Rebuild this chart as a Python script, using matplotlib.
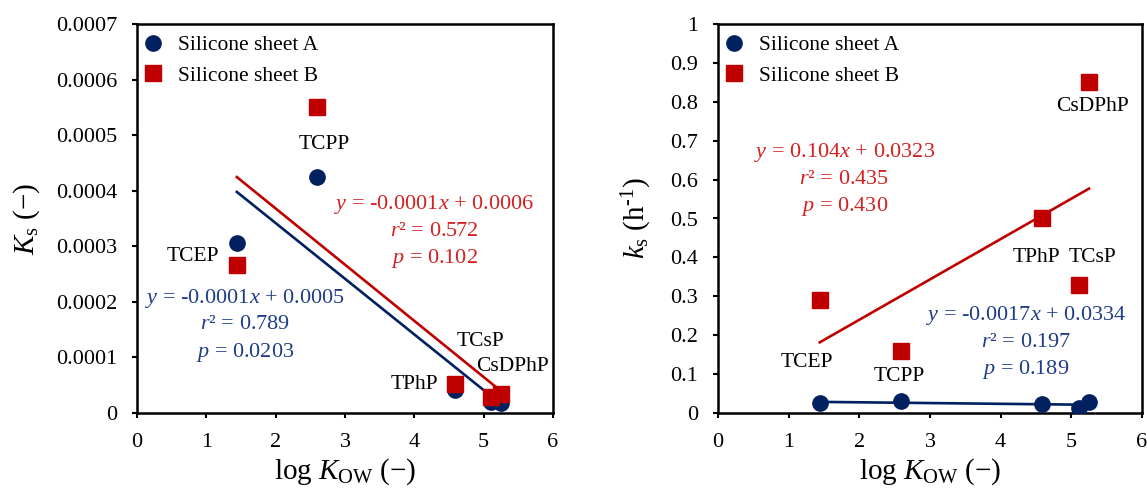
import numpy as np
import matplotlib
matplotlib.use('Agg')
import matplotlib.pyplot as plt
from matplotlib.ticker import FuncFormatter

plt.rcParams['font.family'] = 'Liberation Serif'
plt.rcParams['mathtext.fontset'] = 'custom'
plt.rcParams['mathtext.rm'] = 'Liberation Serif'
plt.rcParams['mathtext.it'] = 'Liberation Serif:italic'

# data
compounds = ['TCEP', 'TCPP', 'TPhP', 'TCsP', 'CsDPhP']
logkow = [1.44, 2.59, 4.59, 5.11, 5.25]

Ks_A = [0.000306, 0.000425, 0.000041, 0.000019, 0.000018]
Ks_B = [0.000266, 0.000550, 0.000053, 0.000029, 0.000034]

ks_A = [0.025, 0.032, 0.022, 0.013, 0.028]
ks_B = [0.29, 0.16, 0.50, 0.33, 0.85]

eq_left_A = '$y$ = -0.0001$x$ + 0.0005\n$r$² = 0.789\n$p$ = 0.0203'
eq_left_B = '$y$ = -0.0001$x$ + 0.0006\n$r$² = 0.572\n$p$ = 0.102'
eq_right_A = '$y$ = -0.0017$x$ + 0.0334\n$r$² = 0.197\n$p$ = 0.189'
eq_right_B = '$y$ = 0.104$x$ + 0.0323\n$r$² = 0.435\n$p$ = 0.430'

# label positions (data coords)
lab_left = {'TCEP': (0.81, 0.000281), 'TCPP': (2.70, 0.000484), 'TPhP': (4.0, 0.0000504),
            'TCsP': (4.96, 0.000128), 'CsDPhP': (5.42, 0.0000833)}
lab_right = {'TCEP': (1.26, 0.131), 'TCPP': (2.57, 0.095), 'TPhP': (4.50, 0.401),
             'TCsP': (5.30, 0.401), 'CsDPhP': (5.30, 0.787)}

blue = '#002060'
red = '#C00000'
blue_txt = '#1F3C88'
red_txt = '#D42020'

fig = plt.figure(figsize=(11.47, 4.90), dpi=100)
ax1 = fig.add_axes([137/1147, 77/490, 416/1147, 389/490])
ax2 = fig.add_axes([718/1147, 77/490, 424/1147, 389/490])


def fit_line(ax, x, y, c):
    m, b = np.polyfit(x, y, 1)
    xx = np.array([min(x), max(x)])
    ax.plot(xx, m*xx + b, '-', color=c, lw=1.9, zorder=2)


def style(ax, ymax, ystep):
    ax.set_xlim(0, 6)
    ax.set_ylim(0, ymax)
    ax.set_xticks(np.arange(0, 7, 1))
    ax.set_yticks(np.arange(0, ymax + ystep/2, ystep))
    ax.yaxis.set_major_formatter(FuncFormatter(lambda v, p: '0' if abs(v) < 1e-12 else f'{v:g}'))
    for s in ax.spines.values():
        s.set_linewidth(1.8)
    ax.tick_params(direction='out', length=3.8, width=1.5, labelsize=16)
    ax.tick_params(axis='y', pad=10.5)
    ax.tick_params(axis='x', pad=10.5)
    ax.set_xlabel(r'log $K_\mathrm{OW}$ (−)', fontsize=21, labelpad=3.5)


def legend(ax):
    ax.legend(loc='upper left', bbox_to_anchor=(0.0, 0.979), frameon=False, fontsize=15.5,
              handletextpad=0.55, labelspacing=0.47, borderaxespad=0.0, borderpad=0.15,
              handlelength=1.2)


# left panel
fit_line(ax1, logkow, Ks_A, blue)
fit_line(ax1, logkow, Ks_B, red)
ax1.plot(logkow, Ks_A, 'o', color=blue, ms=11, ls='none', label='Silicone sheet A', zorder=3)
ax1.plot(logkow, Ks_B, 's', color=red, ms=11, ls='none', label='Silicone sheet B', zorder=4)
style(ax1, 0.0007, 0.0001)
ax1.set_ylabel(r'$K_\mathrm{s}$ (−)', fontsize=21, labelpad=10)
for k, (tx, ty) in lab_left.items():
    ax1.text(tx, ty, k, fontsize=15.5, ha='center', va='center')
ax1.text(1.56, 0.000158, eq_left_A, color=blue_txt, fontsize=16, ha='center', va='center',
         multialignment='center', linespacing=1.4)
ax1.text(4.29, 0.000326, eq_left_B, color=red_txt, fontsize=16, ha='center', va='center',
         multialignment='center', linespacing=1.4)
legend(ax1)

# right panel
fit_line(ax2, logkow, ks_A, blue)
fit_line(ax2, logkow, ks_B, red)
ax2.plot(logkow, ks_A, 'o', color=blue, ms=11, ls='none', label='Silicone sheet A', zorder=3)
ax2.plot(logkow, ks_B, 's', color=red, ms=11, ls='none', label='Silicone sheet B', zorder=4)
style(ax2, 1.0, 0.1)
ax2.set_ylabel(r'$k_\mathrm{s}$ (h$^{\text{-1}}$)', fontsize=21, labelpad=12)
for k, (tx, ty) in lab_right.items():
    ax2.text(tx, ty, k, fontsize=15.5, ha='center', va='center')
ax2.text(4.36, 0.18, eq_right_A, color=blue_txt, fontsize=16, ha='center', va='center',
         multialignment='center', linespacing=1.4)
ax2.text(1.79, 0.60, eq_right_B, color=red_txt, fontsize=16, ha='center', va='center',
         multialignment='center', linespacing=1.4)
legend(ax2)

fig.savefig('out.png', dpi=100)
